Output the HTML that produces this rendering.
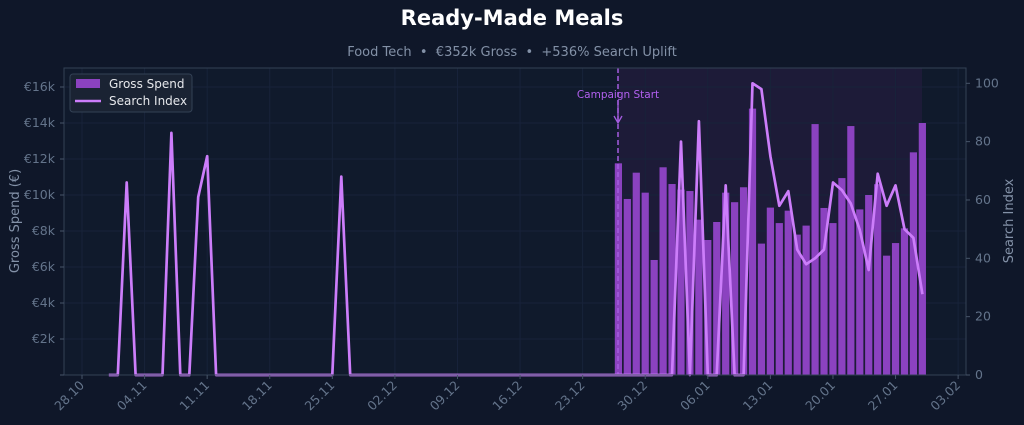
<!DOCTYPE html>
<html><head><meta charset="utf-8"><style>
html,body{margin:0;padding:0;background:#0f1729;width:1024px;height:425px;overflow:hidden}
svg{display:block;font-family:"DejaVu Sans","Liberation Sans",sans-serif}
</style></head><body>
<svg id="s" width="1024" height="425" viewBox="0 0 1024 425" xmlns="http://www.w3.org/2000/svg">
<rect width="1024" height="425" fill="#0f1729"/>
<text x="512" y="25" text-anchor="middle" font-size="21" font-weight="bold" fill="#ffffff">Ready-Made Meals</text>
<text x="512" y="56" text-anchor="middle" font-size="13" fill="#8391a7">Food Tech &#160;•&#160; €352k Gross &#160;•&#160; +536% Search Uplift</text>
<rect x="64" y="68" width="902" height="307" fill="#101a2c"/>
<rect x="618" y="68" width="304" height="307" fill="#1d1b38"/>
<g id="grid"></g>
<g id="bars" fill="#8b42c0"></g>
<line x1="618" y1="68" x2="618" y2="375" stroke="#a45de0" stroke-width="1.5" stroke-dasharray="5,3"/>
<path d="M618 100 L618 122 M614 116 L618 123 L622 116" stroke="#a45de0" stroke-width="1.3" fill="none"/>
<text x="618" y="98" text-anchor="middle" font-size="10.5" fill="#b260f0">Campaign Start</text>
<polyline id="line" fill="none" stroke="#cc7dfa" stroke-width="2.7" stroke-linejoin="round"/>
<rect x="64" y="68" width="902" height="307" fill="none" stroke="#334155" stroke-width="1"/>
<g id="ticks" font-size="12.5" fill="#64748b"></g>
<text transform="translate(19,221) rotate(-90)" text-anchor="middle" font-size="13" fill="#8391a7">Gross Spend (€)</text>
<text transform="translate(1013,221) rotate(-90)" text-anchor="middle" font-size="13" fill="#8391a7">Search Index</text>
<rect x="70" y="74" width="122" height="38" rx="3" fill="#1a2333" stroke="#334155"/>
<rect x="76" y="79" width="24" height="9" fill="#8b42c0"/>
<text x="109" y="88" font-size="12" fill="#e5e7eb">Gross Spend</text>
<line x1="75" y1="101" x2="101" y2="101" stroke="#cc7dfa" stroke-width="2.5"/>
<text x="109" y="105" font-size="12" fill="#e5e7eb">Search Index</text>
</svg>
<script>
var NS="http://www.w3.org/2000/svg";
function el(p,t,a,txt){var e=document.createElementNS(NS,t);for(var k in a)e.setAttribute(k,a[k]);if(txt!=null)e.textContent=txt;document.getElementById(p).appendChild(e);return e;}
function X(d){return 82+8.94*d;}
function YL(k){return 375-18*k;}
function YR(v){return 375-2.917*v;}
for(var k=0;k<=16;k+=2){var y=YL(k);
 if(k>0){el("grid","line",{x1:64,x2:966,y1:y,y2:y,stroke:"#18233a","stroke-width":1});
 el("ticks","text",{x:55,y:y+4,"text-anchor":"end"},"€"+k+"k");}
 el("ticks","line",{x1:60,x2:64,y1:y,y2:y,stroke:"#475569"});}
for(var v=0;v<=100;v+=20){var y=YR(v);
 el("ticks","line",{x1:966,x2:970,y1:y,y2:y,stroke:"#475569"});
 el("ticks","text",{x:975,y:y+4},""+v);}
var labs=["28.10","04.11","11.11","18.11","25.11","02.12","09.12","16.12","23.12","30.12","06.01","13.01","20.01","27.01","03.02"];
for(var i=0;i<labs.length;i++){var x=X(i*7);
 el("grid","line",{x1:x,x2:x,y1:68,y2:375,stroke:"#18233a","stroke-width":1});
 el("ticks","line",{x1:x,x2:x,y1:375,y2:379,stroke:"#475569"});
 el("ticks","text",{transform:"translate("+(x+3)+",386) rotate(-45)","text-anchor":"end"},labs[i]);}
var bars=[11.76,9.78,11.24,10.13,6.39,11.54,10.61,10.3,10.22,8.63,7.5,8.5,10.13,9.6,10.43,14.8,7.3,9.3,8.44,9.13,7.8,8.3,13.94,9.28,8.44,10.94,13.83,9.2,10.0,10.6,6.63,7.33,8.15,12.37,14.0];
for(var i=0;i<bars.length;i++){var x=X(60+i);el("bars","rect",{x:x-3.6,y:YL(bars[i]),width:7.2,height:375-YL(bars[i])});}
var s={5:66,10:83,13:61,14:75,29:68,67:80,69:87,72:65,75:100,76:98,77:75,78:58,79:63,80:43,81:38,82:40,83:43,84:66,85:63.4,86:58.8,87:49.7,88:36,89:69,90:58,91:65,92:50,93:47,94:27.7};
var pts=[];for(var d=3;d<=94;d++){pts.push(X(d).toFixed(1)+","+YR(s[d]||0).toFixed(1));}
document.getElementById("line").setAttribute("points",pts.join(" "));
</script>
</body></html>
